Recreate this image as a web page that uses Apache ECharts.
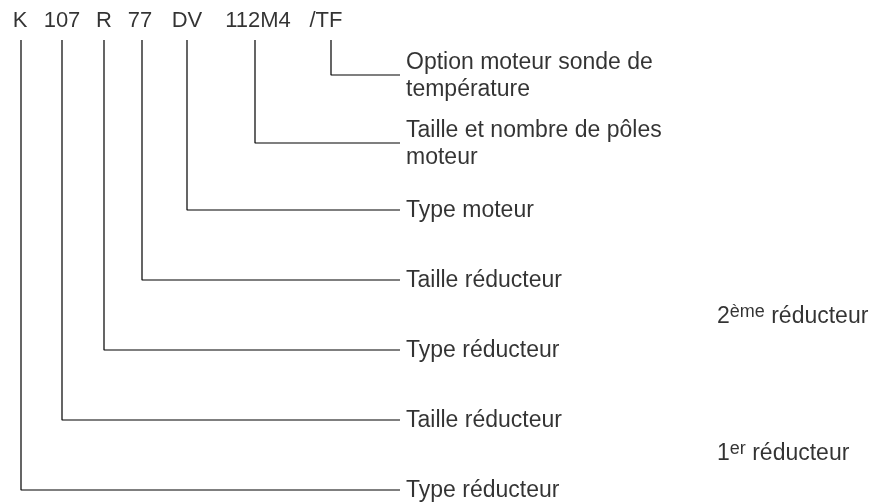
<!DOCTYPE html>
<html>
<head>
<meta charset="utf-8">
<style>
  html, body { margin: 0; padding: 0; background: #fff; }
  #chart { width: 875px; height: 502px; }
</style>
<script src="https://cdn.jsdelivr.net/npm/echarts@6/dist/echarts.min.js"></script>
</head>
<body>
<div id="chart"></div>
<script>
  // code parts, left to right
  const codes = ['K', '107', 'R', '77', 'DV', '112M4', '/TF']
  const codeX = [20, 62, 104, 140, 187, 258, 326]
  // leader lines: stem x and the y where it turns right
  const stemX = [21, 62, 104, 142, 187, 255, 331]
  const leaderY = [490, 420, 350, 280, 210, 143, 75]
  const descriptions = [
    'Type réducteur',
    'Taille réducteur',
    'Type réducteur',
    'Taille réducteur',
    'Type moteur',
    'Taille et nombre de pôles\nmoteur',
    'Option moteur sonde de\ntempérature'
  ]
  // reducer groups on the right
  const groupNum = ['2', '1']
  const groupSup = ['ème', 'er']
  const groupY = [317, 454]

  const FONT = '"Liberation Sans", Arial, sans-serif'
  const headerY = 21
  const stemTop = 40
  const leaderEnd = 400
  const labelX = 406
  const groupX = 717

  const chart = echarts.init(document.getElementById('chart'))

  const series = []
  stemX.forEach((x, i) => {
    series.push({
      type: 'line',
      symbol: 'none',
      silent: true,
      lineStyle: { color: '#000', width: 1.2 },
      data: [[x, stemTop], [x, leaderY[i]], [leaderEnd, leaderY[i]]]
    })
  })

  series.push({
    type: 'scatter',
    symbolSize: 0,
    silent: true,
    label: {
      show: true,
      position: 'inside',
      align: 'center',
      verticalAlign: 'middle',
      color: '#000',
      fontFamily: FONT,
      fontSize: 22,
      formatter: p => p.data[2]
    },
    data: codes.map((c, i) => [codeX[i], headerY, c])
  })

  series.push({
    type: 'scatter',
    symbolSize: 0,
    silent: true,
    label: {
      show: true,
      position: 'right',
      distance: 0,
      align: 'left',
      verticalAlign: 'middle',
      color: '#000',
      fontFamily: FONT,
      fontSize: 23,
      lineHeight: 27,
      formatter: p => p.data[2]
    },
    data: descriptions.map((d, i) => [labelX, leaderY[i] + 1, d])
  })

  series.push({
    type: 'scatter',
    symbolSize: 0,
    silent: true,
    label: {
      show: true,
      position: 'right',
      distance: 0,
      align: 'left',
      verticalAlign: 'middle',
      color: '#000',
      fontFamily: FONT,
      formatter: p => '{n|' + p.data[2] + '}{s|' + p.data[3] + '}{n| réducteur}',
      rich: {
        n: { fontSize: 23, lineHeight: 27, fontFamily: FONT, color: '#000' },
        s: { fontSize: 18, lineHeight: 15, verticalAlign: 'top', fontFamily: FONT, color: '#000' }
      }
    },
    data: groupNum.map((n, i) => [groupX, groupY[i], n, groupSup[i]])
  })

  chart.setOption({
    animation: false,
    grid: { left: 0, right: 0, top: 0, bottom: 0 },
    xAxis: { type: 'value', min: 0, max: 875, show: false },
    yAxis: { type: 'value', min: 0, max: 502, inverse: true, show: false },
    series: series
  })
</script>
</body>
</html>
